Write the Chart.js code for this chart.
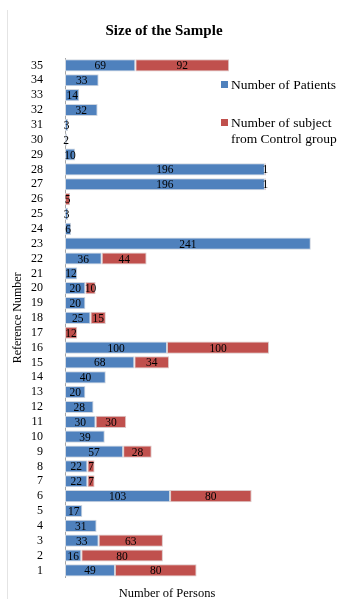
<!DOCTYPE html>
<html>
<head>
<meta charset="utf-8">
<script src="https://cdn.jsdelivr.net/npm/chart.js@4/dist/chart.umd.min.js"></script>
<style>
  html, body { margin: 0; padding: 0; background: #fff; }
  #wrap { position: relative; width: 348px; height: 599px; overflow: hidden; }
  #frame { position: absolute; left: 7px; top: 10px; height: 600px; border-left: 1px solid #e4e4e4; }
  #legend { position: absolute; left: 221px; top: 77px; font: 13.5px "Liberation Serif", serif; color: #000;
            line-height: 16px; }
  #legend .item { display: flex; align-items: flex-start; margin-bottom: 22px; }
  #legend .sw { width: 7px; height: 7px; margin: 4px 3px 0 0; flex: none; }
  #xTitle { position: absolute; left: 0; width: 334px; top: 586px; text-align: center;
            font: 12.5px "Liberation Serif", serif; color: #000; }
</style>
</head>
<body>
<div id="wrap">
  <div id="frame"></div>
  <canvas id="c" width="348" height="599"></canvas>
  <div id="legend"></div>
  <div id="xTitle">Number of Persons</div>
</div>
<script>
/* data, bottom (1) to top (35) */
const REFS = Array.from({ length: 35 }, (_, i) => String(i + 1));
const PATIENTS = [49, 16, 33, 31, 17, 103, 22, 22, 57, 39, 30, 28, 20, 40, 68, 100, 0, 25, 20, 20,
                  12, 36, 241, 6, 3, 0, 196, 196, 10, 2, 3, 32, 14, 33, 69];
const CONTROLS = [80, 80, 63, 0, 0, 80, 7, 7, 28, 0, 30, 0, 0, 0, 34, 100, 12, 15, 0, 10,
                  0, 44, 0, 0, 0, 5, 1, 1, 0, 0, 0, 0, 0, 0, 92];
const SERIES_NAMES = ["Number of Patients", "Number of subject from Control group"];
const SERIES_COLORS = ["#4f81bd", "#c0504d"];

const SERIF = '"Liberation Serif", "Times New Roman", serif';

/* value labels centred on each segment */
const barLabels = {
  id: "barLabels",
  afterDatasetsDraw(chart) {
    const ctx = chart.ctx;
    ctx.save();
    ctx.font = "11.5px " + SERIF;
    ctx.fillStyle = "#000";
    ctx.textAlign = "center";
    ctx.textBaseline = "middle";
    chart.data.datasets.forEach((ds, di) => {
      chart.getDatasetMeta(di).data.forEach((el, i) => {
        const v = ds.data[i];
        if (!v) return;
        const p = el.getCenterPoint();
        ctx.fillText(String(v), p.x, p.y + 1);
      });
    });
    ctx.restore();
  }
};

new Chart(document.getElementById("c"), {
  type: "bar",
  data: {
    labels: REFS,
    datasets: [
      { label: SERIES_NAMES[0], data: PATIENTS, backgroundColor: SERIES_COLORS[0],
        borderColor: "#cfd6e0", borderWidth: 1, borderSkipped: false },
      { label: SERIES_NAMES[1], data: CONTROLS, backgroundColor: SERIES_COLORS[1],
        borderColor: "#dcc8c8", borderWidth: 1, borderSkipped: false }
    ]
  },
  options: {
    indexAxis: "y",
    responsive: false,
    animation: false,
    categoryPercentage: 0.82,
    barPercentage: 1,
    layout: { padding: { left: 8, right: 28, top: 22, bottom: 21 } },
    plugins: {
      legend: { display: false },
      tooltip: { enabled: false },
      title: {
        display: true,
        text: "Size of the Sample",
        color: "#000",
        font: { family: SERIF, size: 15, weight: "bold" },
        padding: { top: 0, bottom: 18 }
      }
    },
    scales: {
      x: { display: false, stacked: true, min: 0, max: 250 },
      y: {
        stacked: true,
        reverse: true,
        afterFit: s => { s.width = 57; },
        grid: { display: false },
        border: { display: true, color: "#a6a6a6", width: 1 },
        ticks: { color: "#000", font: { family: SERIF, size: 12 }, padding: 14, autoSkip: false },
        title: { display: true, text: "Reference Number", color: "#000",
                 font: { family: SERIF, size: 12 }, padding: { top: 3, bottom: 0 } }
      }
    }
  },
  plugins: [barLabels]
});

/* legend */
document.getElementById("legend").innerHTML = SERIES_NAMES.map((n, i) => `
  <div class="item"><span class="sw" style="background:${SERIES_COLORS[i]}"></span>
  <span style="max-width:116px">${n}</span></div>`).join("");
</script>
</body>
</html>
